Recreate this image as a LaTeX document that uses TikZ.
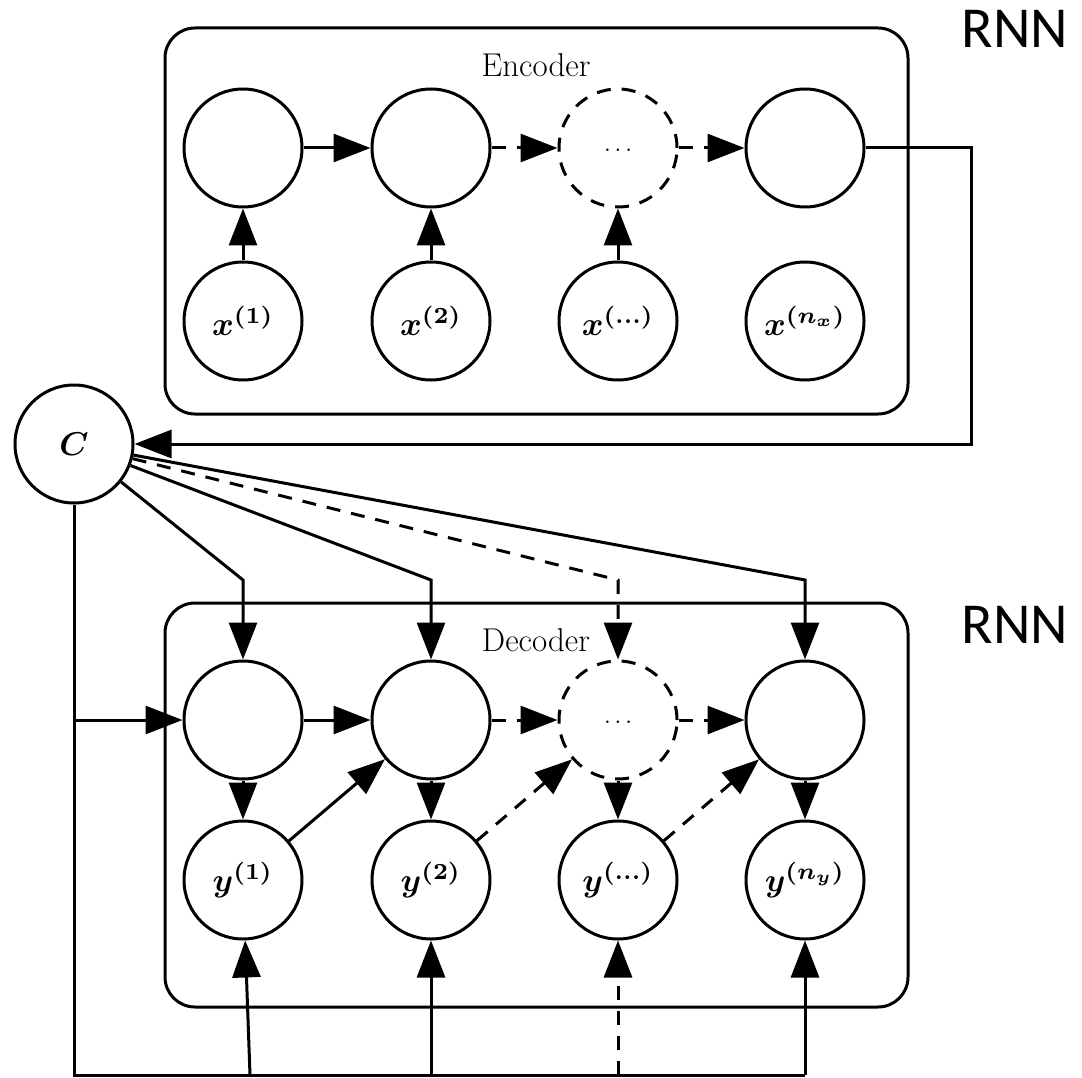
\documentclass[tikz,border=0pt]{standalone}
\usepackage{fontspec}
\newfontfamily\rnnfont{Carlito}
\usetikzlibrary{arrows.meta}
\begin{document}
\begin{tikzpicture}[x=1pt,y=-1pt,
  every node/.style={inner sep=0pt},
  unit/.style={circle,draw,line width=3pt,minimum size=118pt},
  dunit/.style={unit,dash pattern=on 14pt off 11pt},
  conn/.style={line width=3pt,-{Triangle[length=37pt,width=28pt]}},
  dconn/.style={conn,dash pattern=on 14pt off 11pt},
  plainline/.style={line width=3pt},
  boxnode/.style={draw,line width=3pt,rounded corners=30pt,minimum width=743pt},
  lab/.style={font=\boldmath,scale=3.3},
  boxlab/.style={font=\fontsize{33}{40}\selectfont},
  dots/.style={scale=2.4},
  rnnlab/.style={font=\rnnfont\fontsize{58}{70}\selectfont}
]
\useasboundingbox (0,0) rectangle (1082,1078);

% boxes
\node[boxnode,minimum height=386pt] (encbox) at (536.5,221) {};
\node[boxnode,minimum height=404pt] (decbox) at (536.5,805) {};
\node[boxlab] (enclab) at (536,65) {Encoder};
\node[boxlab] (declab) at (536,640) {Decoder};
\node[rnnlab] (rnn1) at (1015,29) {RNN};
\node[rnnlab] (rnn2) at (1015,625) {RNN};

% encoder
\node[unit] (h1) at (243,148) {};
\node[unit] (h2) at (431,148) {};
\node[dunit] (h3) at (618,148) {};
\node[dots] (h3d) at (618,150) {$\ldots$};
\node[unit] (h4) at (805,148) {};
\node[unit] (x1) at (243,321) {};
\node[unit] (x2) at (431,321) {};
\node[unit] (x3) at (618,321) {};
\node[unit] (x4) at (805,321) {};
\node[lab] (x1l) at (x1) {$x^{(1)}$};
\node[lab] (x2l) at (x2) {$x^{(2)}$};
\node[lab] (x3l) at (x3) {$x^{(\ldots)}$};
\node[lab] (x4l) at (x4) {$x^{(n_x)}$};

\draw[conn] (h1) -- (h2);
\draw[dconn] (h2) -- (h3);
\draw[dconn] (h3) -- (h4);
\draw[conn] (x1) -- (h1);
\draw[conn] (x2) -- (h2);
\draw[conn] (x3) -- (h3);

% context
\node[unit] (C) at (74,444) {};
\node[lab] (Cl) at (C) {$C$};
\coordinate (ec) at (971,444);
\draw[conn] (h4.east) -| (ec) -- (C);

% decoder
\node[unit] (d1) at (243,720) {};
\node[unit] (d2) at (431,720) {};
\node[dunit] (d3) at (618,720) {};
\node[dots] (d3d) at (618,722) {$\ldots$};
\node[unit] (d4) at (805,720) {};
\node[unit] (y1) at (243,880) {};
\node[unit] (y2) at (431,880) {};
\node[unit] (y3) at (618,880) {};
\node[unit] (y4) at (805,880) {};
\node[lab] (y1l) at (y1) {$y^{(1)}$};
\node[lab] (y2l) at (y2) {$y^{(2)}$};
\node[lab] (y3l) at (y3) {$y^{(\ldots)}$};
\node[lab] (y4l) at (y4) {$y^{(n_y)}$};

\draw[conn] (d1) -- (d2);
\draw[dconn] (d2) -- (d3);
\draw[dconn] (d3) -- (d4);
\draw[conn] (d1) -- (y1);
\draw[conn] (d2) -- (y2);
\draw[conn] (d3) -- (y3);
\draw[conn] (d4) -- (y4);
\draw[conn] (y1) -- (d2);
\draw[dconn] (y2) -- (d3);
\draw[dconn] (y3) -- (d4);

% C to decoder units
\coordinate (b1) at (243,580);
\coordinate (b2) at (431,580);
\coordinate (b3) at (618,580);
\coordinate (b4) at (805,580);
\draw[conn] (C) -- (b1) -- (d1);
\draw[conn] (C) -- (b2) -- (d2);
\draw[dconn] (C) -- (b3) -- (d3);
\draw[conn] (C) -- (b4) -- (d4);

% C down and along bottom
\coordinate (cm) at (74,720);
\coordinate (cb) at (74,1075);
\coordinate (u1) at (250,1075);
\coordinate (u2) at (431,1075);
\coordinate (u3) at (618,1075);
\coordinate (u4) at (805,1075);
\draw[plainline] (C) -- (cb) -- (u4);
\draw[conn] (cm) -- (d1);
\draw[conn] (u1) -- (y1);
\draw[conn] (u2) -- (y2);
\draw[dconn] (u3) -- (y3);
\draw[conn] (u4) -- (y4);
\end{tikzpicture}
\end{document}
